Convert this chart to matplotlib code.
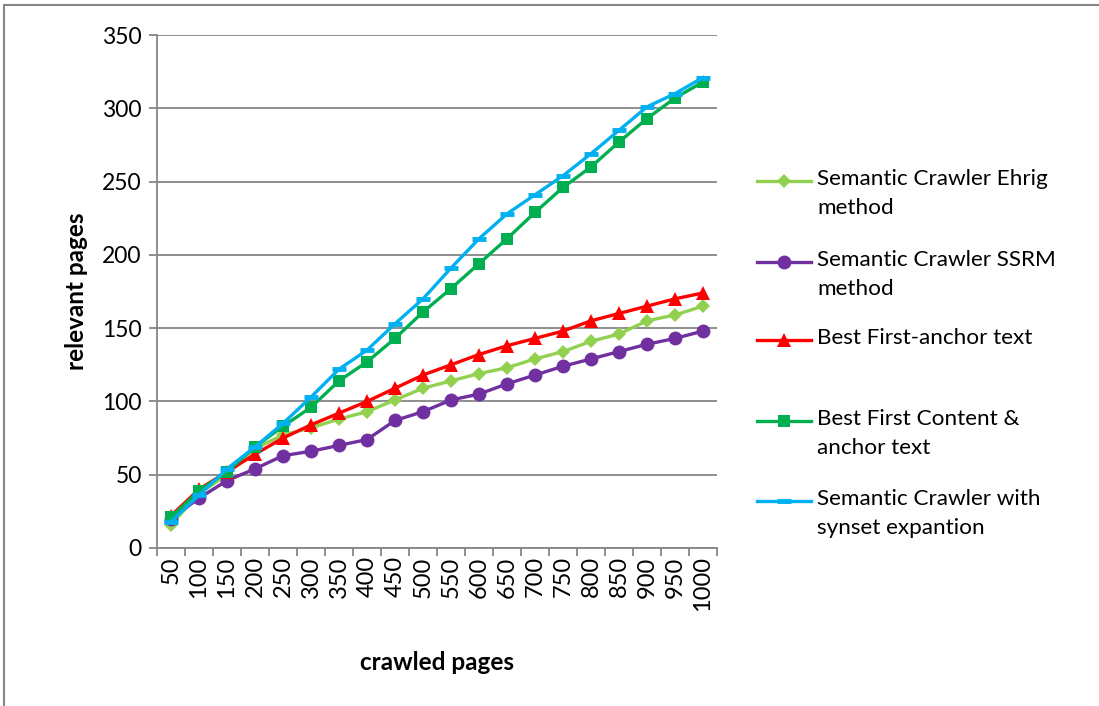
import numpy as np
import matplotlib
matplotlib.use('Agg')
import matplotlib.pyplot as plt
from matplotlib.lines import Line2D
from matplotlib.patches import Rectangle

plt.rcParams['font.family'] = ['Lato', 'DejaVu Sans']

# crawled pages (categories) and relevant pages per crawler
pages = [50, 100, 150, 200, 250, 300, 350, 400, 450, 500,
         550, 600, 650, 700, 750, 800, 850, 900, 950, 1000]
ehrig = [16, 37, 50, 68, 77, 82, 88, 93, 101, 109,
         114, 119, 123, 129, 134, 141, 146, 155, 159, 165]
ssrm = [20, 34, 46, 54, 63, 66, 70, 74, 87, 93,
        101, 105, 112, 118, 124, 129, 134, 139, 143, 148]
anchor = [22, 40, 52, 64, 75, 84, 92, 100, 109, 118,
          125, 132, 138, 143, 148, 155, 160, 165, 170, 174]
content_anchor = [21, 39, 52, 69, 83, 96, 114, 127, 143, 161,
                  177, 194, 211, 229, 246, 260, 277, 293, 307, 318]
synset = [18, 36, 54, 69, 85, 103, 122, 135, 153, 170,
          191, 211, 228, 241, 254, 269, 285, 301, 310, 321]

labels = ['Semantic Crawler Ehrig\nmethod',
          'Semantic Crawler SSRM\nmethod',
          'Best First-anchor text',
          'Best First Content &\nanchor text',
          'Semantic Crawler with\nsynset expantion']
series = [ehrig, ssrm, anchor, content_anchor, synset]
colors = ['#92D050', '#7030A0', '#FF0000', '#00B050', '#00B0F0']
markers = ['D', 'o', '^', 's', '_']
msizes = [7.5, 10, 10, 9, 10]
mews = [0, 0, 0, 0, 3.5]

W, H = 1099, 706
fig = plt.figure(figsize=(W / 100, H / 100), dpi=100)
ax = fig.add_axes([157 / W, 1 - 548 / H, (717 - 157) / W, (548 - 35) / H])

x = np.arange(len(pages))
for vals, c, m, ms, mew in zip(series, colors, markers, msizes, mews):
    ax.plot(x, vals, color=c, lw=2.4, marker=m, ms=ms,
            markeredgewidth=mew, markeredgecolor=c, markerfacecolor=c)

ax.set_xlim(-0.5, len(pages) - 0.5)
ax.set_ylim(0, 350)
ax.set_yticks(np.arange(0, 351, 50))
ax.yaxis.grid(True, color='#868686', lw=1.3)
ax.set_axisbelow(True)

ax.set_xticks(x)
ax.set_xticklabels([str(p) for p in pages], rotation=90, fontsize=17)
ax.set_xticks(np.arange(-0.5, len(pages), 1), minor=True)
ax.tick_params(axis='x', which='major', length=0, pad=6)
ax.tick_params(axis='x', which='minor', length=6, color='#868686', width=1.3)
ax.tick_params(axis='y', length=6, color='#868686', width=1.3, labelsize=16.5, pad=5)

for s in ['top', 'right']:
    ax.spines[s].set_visible(False)
for s in ['left', 'bottom']:
    ax.spines[s].set_color('#868686')
    ax.spines[s].set_linewidth(1.3)

ax.set_ylabel('relevant pages', fontsize=17.5, fontweight='bold', labelpad=10)
fig.text(437 / W, 1 - 663 / H, 'crawled pages', fontsize=17.5, fontweight='bold',
         ha='center', va='center')

# legend drawn by hand so two-line entries keep the marker on the first line
entry_y = [181, 262, 340, 421, 501]
for lab, c, m, ms, mew, yy in zip(labels, colors, markers, msizes, mews, entry_y):
    fy = 1 - yy / H
    fig.add_artist(Line2D([757 / W, 811 / W], [fy, fy], color=c, lw=2.4,
                          transform=fig.transFigure))
    fig.add_artist(Line2D([784 / W], [fy], color=c, marker=m, ms=ms,
                          markeredgewidth=mew, markeredgecolor=c,
                          markerfacecolor=c, transform=fig.transFigure))
    fig.text(817 / W, fy + 12 / H, lab, fontsize=16.2, va='top', ha='left',
             linespacing=1.55, transform=fig.transFigure)

# outer chart frame
fig.add_artist(Rectangle((4 / W, -0.1), 1.2, 1 - 5 / H + 0.1, fill=False,
                         edgecolor='#868686', lw=1.5, transform=fig.transFigure))

fig.savefig('out.png', dpi=100)
